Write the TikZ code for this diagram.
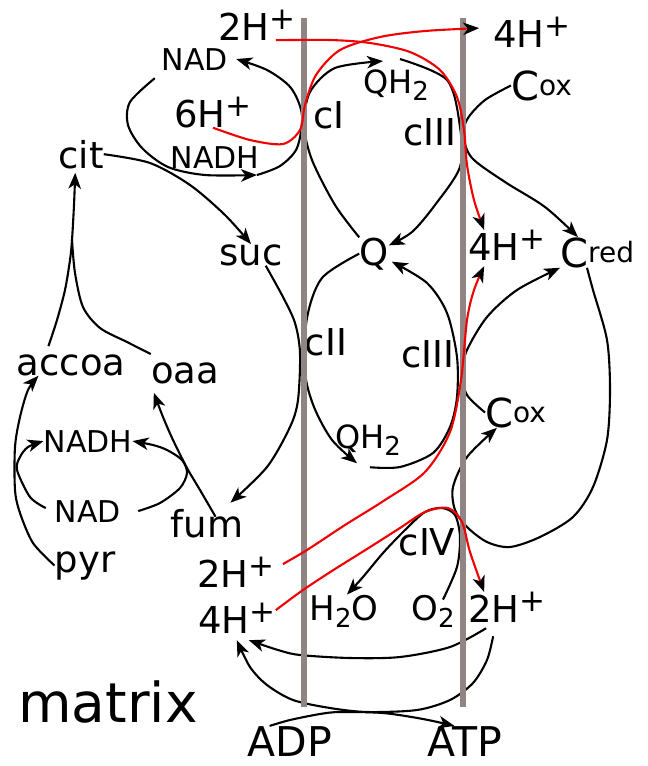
\documentclass[tikz,border=0pt]{standalone}
\usepackage{fontspec}
\setmainfont{DejaVu Sans}
\usetikzlibrary{arrows.meta}
\definecolor{memb}{RGB}{145,132,132}
\definecolor{hred}{RGB}{240,0,0}
\newcommand\myHp{H\raisebox{.28em}{\fontsize{31}{31}\selectfont+}}
\newcommand\myDn[1]{\raisebox{-.22em}{\fontsize{26}{26}\selectfont #1}}
\newcommand\myC[1]{{\fontsize{40}{40}\selectfont C}\raisebox{.42em}{\fontsize{28}{28}\selectfont #1}}
\begin{document}
\begin{tikzpicture}[x=1pt,y=-1pt,
  lab/.style={inner sep=0pt,anchor=base,font=\fontsize{37}{40}\selectfont},
  sml/.style={lab,font=\fontsize{30}{34}\selectfont},
  qlab/.style={lab,font=\fontsize{32}{36}\selectfont},
  wlab/.style={lab,font=\fontsize{34}{38}\selectfont},
  clab/.style={inner sep=0pt,anchor=base west},
  arr/.style={line width=2.1pt,line join=round,-{Stealth[length=16pt,width=12.5pt,inset=4.5pt,color=black]}},
  plain/.style={line width=2.1pt,line join=round},
  rarr/.style={arr,draw=hred},
  membrane/.style={line width=6.5pt,draw=memb}]
\fill[white] (0,0) rectangle (648,766);
\useasboundingbox (0,0) rectangle (648,766);
% nodes
\node[lab] (H2t) at (257,40) {2\myHp};
\node[lab] (H4t) at (532,47) {4\myHp};
\node[sml] (NADt) at (195,70) {NAD};
\node[lab] (H6) at (213,127) {6\myHp};
\node[lab] (cI) at (329,128) {cI};
\node[qlab] (QH2t) at (396,93) {QH\myDn{2}};
\node[lab] (cIIIt) at (430,145) {cIII};
\node[clab] (Cxt) at (511,100) {\myC{ox}};
\node[sml] (NADHt) at (215,168) {NADH};
\node[lab] (cit) at (81,168) {cit};
\node[lab] (suc) at (251,265) {suc};
\node[lab] (Q) at (374,265) {Q};
\node[lab] (H4m) at (507,260) {4\myHp};
\node[clab] (Crd) at (560,267) {\myC{red}};
\node[lab] (cII) at (326,355) {cII};
\node[lab] (cIIIm) at (428,367) {cIII};
\node[lab] (accoa) at (71,375) {accoa};
\node[lab] (oaa) at (185,383) {oaa};
\node[clab] (Cxm) at (485,427) {\myC{ox}};
\node[sml] (NADHl) at (88,452) {NADH};
\node[qlab] (QH2m) at (368,448) {QH\myDn{2}};
\node[sml] (NADl) at (88,522) {NAD};
\node[lab] (fum) at (207,537) {fum};
\node[lab] (cIV) at (427,555) {cIV};
\node[lab] (pyr) at (85,572) {pyr};
\node[lab] (H2l) at (236,587) {2\myHp};
\node[lab] (H4l) at (237,633) {4\myHp};
\node[wlab] (H2O) at (344,620) {H\myDn{2}O};
\node[wlab] (O2) at (433,620) {O\myDn{2}};
\node[lab] (H2br) at (507,622) {2\myHp};
\node[lab,font=\fontsize{55}{60}\selectfont] (matrix) at (108,722) {matrix};
\node[lab,font=\fontsize{41}{44}\selectfont] (ADP) at (290,756) {ADP};
\node[lab,font=\fontsize{41}{44}\selectfont] (ATP) at (465,756) {ATP};
\coordinate (nadhA) at (257,175);
\coordinate (citj) at (72,240);
% black connectors
\draw[arr] plot[smooth] coordinates {(cit.east) (150,163) (190,185) (225,215) (suc.north)};
\draw[arr] plot[smooth] coordinates {([xshift=-7pt,yshift=-8pt]NADt.south west) (130,102) (128,125) (142,148) (168,167) (205,175) (nadhA)};
\draw[arr] plot[smooth] coordinates {(nadhA) (280,166) (297,148) (302,115) (291,88) (267,70) ([xshift=8pt]NADt.east)};
\draw[arr] plot[smooth] coordinates {(Q.north west) (335,205) (312,160) (304,125) (310,92) (335,68) ([xshift=-13pt,yshift=8pt]QH2t.north)};
\draw[arr] plot[smooth] coordinates {([xshift=4pt,yshift=10pt]QH2t.north) (447,80) (460,127) (460,167) (435,205) (412,232) ([yshift=-8pt]Q.north east)};
\draw[arr] plot[smooth] coordinates {(Cxt.west) (485,100) (468,118) (463,135) (472,158) (505,182) (545,207) ([xshift=18pt]Crd.north west)};
\draw[arr] plot[smooth] coordinates {(Q.west) (322,278) (307,318) (305,372) (314,407) (332,440) ([xshift=-11pt,yshift=-8pt]QH2m.south)};
\draw[arr] plot[smooth] coordinates {([xshift=2pt,yshift=-12pt]QH2m.south) (400,467) (433,453) (450,427) (457,397) (457,357) (447,313) (427,283) ([xshift=3pt,yshift=-8pt]Q.east)};
\draw[arr] plot[smooth] coordinates {([xshift=-17pt]suc.south east) (283,297) (295,323) (300,353) (298,400) (290,427) (267,467) ([xshift=-13pt,yshift=6pt]fum.north east)};
\draw[arr] plot[smooth] coordinates {(Cxm.west) (467,395) (462,373) (467,350) (487,317) (517,290) (Crd.south west)};
\draw[arr] plot[smooth] coordinates {([xshift=27pt]Crd.south west) (593,290) (607,340) (610,390) (607,440) (593,487) (573,517) (540,537) (510,547) (487,542) (467,527) (455,510) (453,487) (467,457) ([xshift=12pt]Cxm.south west)};
\draw[arr] plot[smooth] coordinates {([xshift=10pt,yshift=-5pt]O2.north) (457,567) (460,537) (455,515) (442,508) (425,512) (405,530) (383,553) (363,577) ([xshift=3pt]H2O.north)};
\draw[arr] plot[smooth] coordinates {([xshift=18pt,yshift=-6pt]H2br.south west) (450,647) (400,657) (350,658) (300,655) (278,650) ([xshift=-27pt,yshift=-7pt]H4l.south east)};
\draw[arr] plot[smooth] coordinates {([xshift=25pt,yshift=-14pt]H2br.south west) (487,660) (473,683) (450,700) (417,710) (367,712) (330,708) (293,700) (267,685) (250,667) ([xshift=-39pt,yshift=-7pt]H4l.south east)};
\draw[arr] plot[smooth] coordinates {([xshift=22pt]ADP.north west) (290,720) (320,714) (340,712) (383,713) (423,719) ([xshift=27pt]ATP.north west)};
\draw[arr] plot[smooth] coordinates {(pyr.west) (33,543) (20,513) (15,490) (15,447) (20,417) (28,390) ([xshift=22pt]accoa.south west)};
\draw[arr] plot[smooth] coordinates {([xshift=-9pt,yshift=3pt]NADl.west) (30,497) (17,470) (20,457) (28,447) (NADHl.west)};
\draw[arr] plot[smooth] coordinates {([xshift=17pt]NADl.east) (160,503) (180,488) (187,473) (182,460) (167,450) (153,445) (NADHl.east)};
\draw[arr] plot[smooth] coordinates {([xshift=45pt,yshift=-8pt]fum.north west) (200,490) (187,468) (173,440) (163,417) ([xshift=3pt,yshift=-9pt]oaa.south west)};
\draw[arr] plot[smooth] coordinates {([xshift=32pt,yshift=8pt]accoa.north west) (57,320) (65,290) (70,260) (citj) (74,205) ([xshift=17pt,yshift=-4pt]cit.south west)};
\draw[plain] plot[smooth] coordinates {([yshift=8pt]oaa.north west) (127,342) (100,328) (83,307) (75,273) (citj)};
% membranes
\draw[membrane] (304,18) -- (304,707);
\draw[membrane] (463,18) -- (463,707);
% red proton paths
\draw[rarr] plot[smooth] coordinates {(H6.south) (250,140) (283,144) (300,130) (305,105) (316,75) (340,50) (380,37) (425,31) ([xshift=-14pt,yshift=4pt]H4t.west)};
\draw[rarr] plot[smooth] coordinates {([xshift=-20pt]H2t.south east) (330,40) (370,43) (410,52) (440,70) (457,97) (464,130) (467,165) (474,200) ([xshift=16pt]H4m.north west)};
\draw[rarr] plot[smooth] coordinates {([xshift=8pt,yshift=8pt]H2l.east) (307,550) (345,525) (385,500) (425,472) (450,432) (461,380) (467,320) (474,290) ([xshift=16pt,yshift=-6pt]H4m.south west)};
\draw[rarr] plot[smooth] coordinates {([yshift=8pt]H4l.east) (303,590) (335,569) (367,549) (400,528) (425,512) (448,508) (462,522) (470,552) ([xshift=16pt]H2br.north west)};
\end{tikzpicture}
\end{document}
